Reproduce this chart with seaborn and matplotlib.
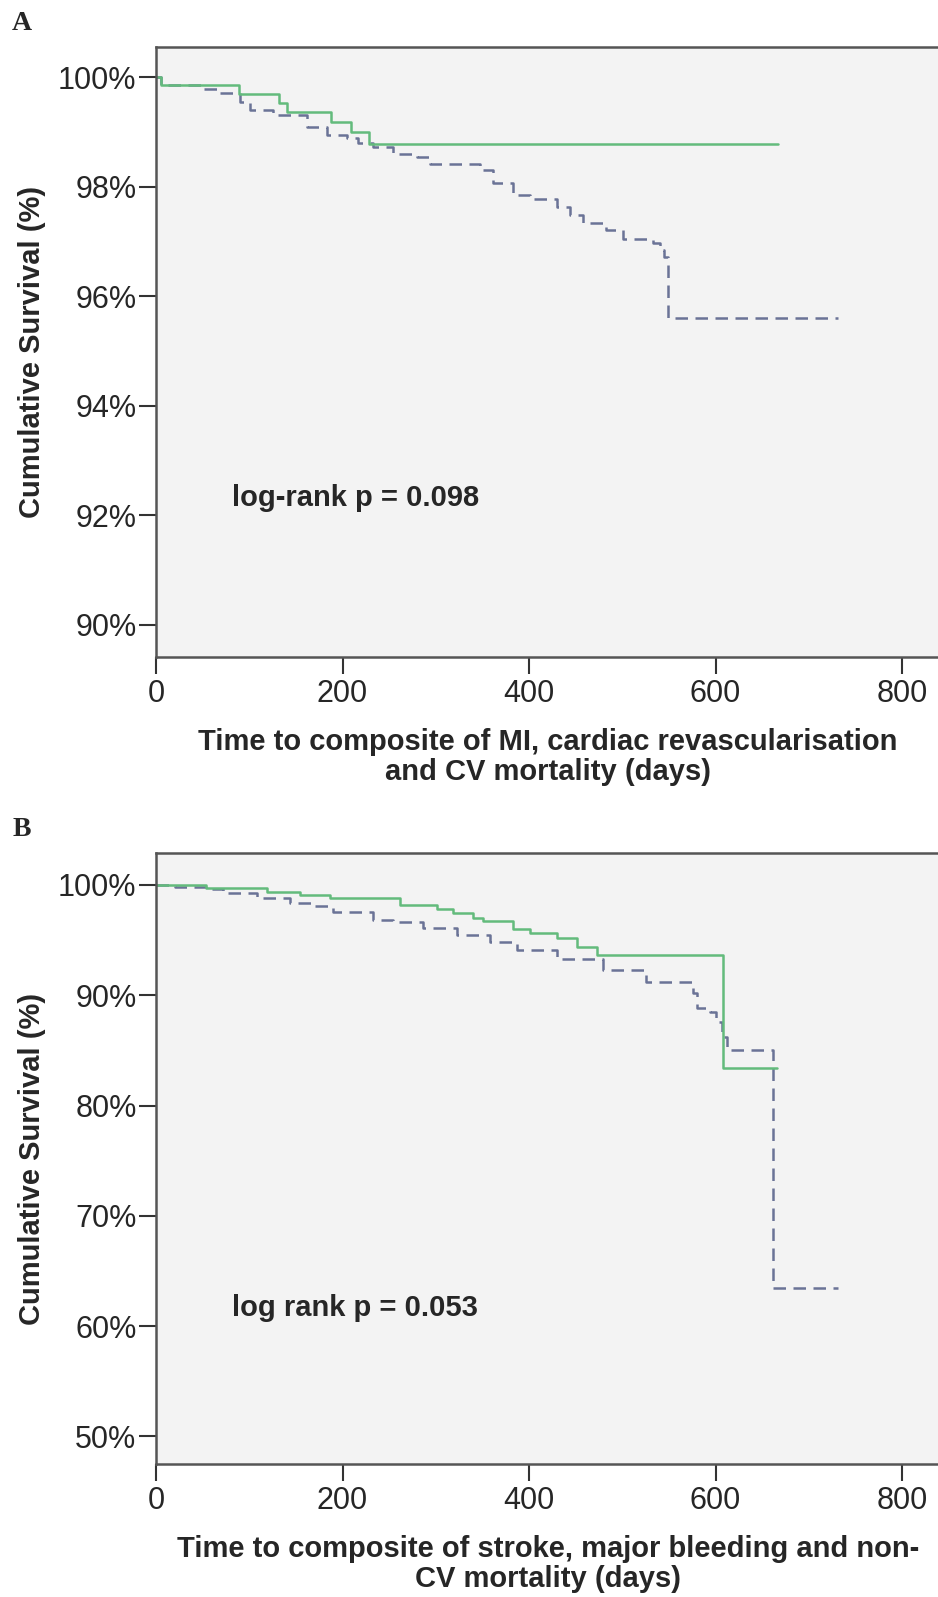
import pandas as pd
import matplotlib
matplotlib.use('Agg')
import matplotlib.pyplot as plt
import seaborn as sns
from matplotlib.ticker import FuncFormatter

# panel A: MI, cardiac revascularisation and CV mortality
a_green_days = [0, 5, 89, 132, 140, 188, 209, 228, 667]
a_green_surv = [100, 99.86, 99.70, 99.52, 99.37, 99.18, 99.0, 98.78, 98.78]
a_dash_days = [0, 5, 50, 65, 90, 101, 126, 162, 183, 205, 217, 233, 254, 280, 294,
               347, 361, 383, 401, 430, 444, 458, 483, 501, 533, 540, 545, 549, 731]
a_dash_surv = [100, 99.86, 99.78, 99.71, 99.55, 99.40, 99.30, 99.09, 98.94, 98.88, 98.80,
               98.73, 98.60, 98.54, 98.42, 98.30, 98.06, 97.84, 97.78, 97.63, 97.48,
               97.33, 97.21, 97.05, 96.97, 96.84, 96.72, 95.60, 95.60]

# panel B: stroke, major bleeding and non-CV mortality
b_green_days = [0, 54, 119, 154, 187, 262, 301, 319, 340, 351, 383, 401, 430, 451, 473, 608, 666]
b_green_surv = [100, 99.7, 99.4, 99.1, 98.79, 98.19, 97.85, 97.43, 96.98, 96.77, 96.05,
                95.62, 95.17, 94.41, 93.65, 83.38, 83.38]
b_dash_days = [0, 20, 54, 72, 108, 144, 169, 190, 233, 254, 286, 323, 358, 387, 430, 479,
               526, 576, 580, 594, 601, 607, 612, 662, 731]
b_dash_surv = [100, 99.85, 99.6, 99.24, 98.79, 98.34, 98.10, 97.58, 96.83, 96.67, 96.07,
               95.47, 94.86, 94.11, 93.30, 92.30, 91.23, 90.18, 88.82, 88.51, 87.60,
               86.24, 85.04, 63.5, 63.5]

a_yticks = [90, 92, 94, 96, 98, 100]
b_yticks = [50, 60, 70, 80, 90, 100]
xticks = [0, 200, 400, 600, 800]

sns.set_style("white")
plt.rcParams['font.family'] = ['Liberation Sans', 'DejaVu Sans']

GREEN = '#63bb7c'
SLATE = '#6a7396'
W, H = 938, 1597

fig = plt.figure(figsize=(W / 100, H / 100), dpi=100)


def panel(top, bottom, g_days, g_surv, d_days, d_surv, ylim, yticks, note, note_y, xlabel, letter):
    ax = fig.add_axes([156 / W, 1 - bottom / H, (W - 156) / W, (bottom - top) / H])
    ax.set_facecolor('#f3f3f3')
    g = pd.DataFrame({'day': g_days, 'surv': g_surv})
    d = pd.DataFrame({'day': d_days, 'surv': d_surv})
    sns.lineplot(data=d, x='day', y='surv', ax=ax, color=SLATE, linewidth=1.8,
                 drawstyle='steps-post', estimator=None, sort=False)
    ax.lines[-1].set_dashes([5, 3])
    sns.lineplot(data=g, x='day', y='surv', ax=ax, color=GREEN, linewidth=1.8,
                 drawstyle='steps-post', estimator=None, sort=False)
    ax.set_xlim(0, (W - 156) / 0.9325)
    ax.set_ylim(*ylim)
    ax.set_xticks(xticks)
    ax.set_yticks(yticks)
    ax.yaxis.set_major_formatter(FuncFormatter(lambda v, p: '%d%%' % v))
    ax.tick_params(labelsize=22, length=12, width=1.5, color='#333333', pad=2,
                   left=True, bottom=True)
    ax.tick_params(axis='x', pad=4)
    for s in ['left', 'bottom', 'top']:
        ax.spines[s].set_color('#555555')
        ax.spines[s].set_linewidth(1.8)
    ax.spines['right'].set_visible(False)
    ax.set_xlabel('')
    ax.set_ylabel('')
    ax.text(81, note_y, note, fontsize=21, fontweight='bold', va='center', ha='left')
    fig.text(32 / W, 1 - (top + bottom) / 2 / H, 'Cumulative Survival (%)', rotation=90,
             fontsize=21, fontweight='bold', ha='center', va='center')
    fig.text(548 / W, 1 - (bottom + 100) / H, xlabel, fontsize=21, fontweight='bold',
             ha='center', va='center', multialignment='center', linespacing=1.05)
    fig.text(22 / W, 1 - (top - 24) / H, letter, fontsize=20, fontweight='bold',
             family=['Liberation Serif', 'DejaVu Serif'], ha='center', va='center')
    return ax


panel(47, 657, a_green_days, a_green_surv, a_dash_days, a_dash_surv,
      (89.41, 100.55), a_yticks, 'log-rank p = 0.098', 92.31,
      'Time to composite of MI, cardiac revascularisation\nand CV mortality (days)', 'A')
panel(853, 1464, b_green_days, b_green_surv, b_dash_days, b_dash_surv,
      (47.5, 102.9), b_yticks, 'log rank p = 0.053', 61.6,
      'Time to composite of stroke, major bleeding and non-\nCV mortality (days)', 'B')

fig.savefig('out.png', dpi=100, facecolor='white')
